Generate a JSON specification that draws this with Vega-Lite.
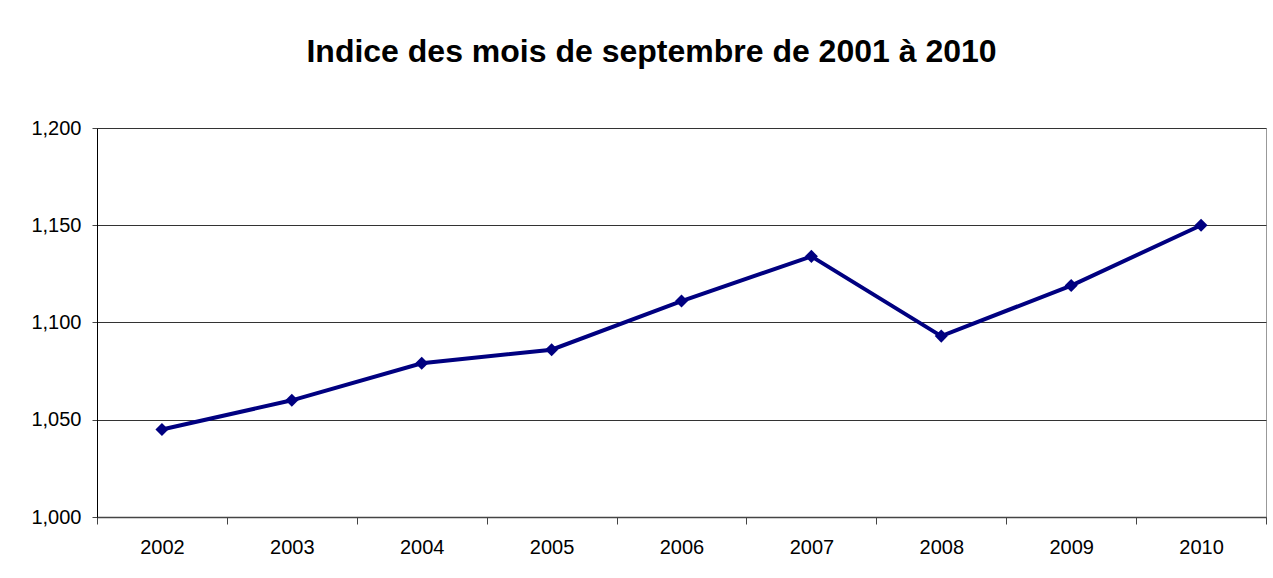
{
  "$schema": "https://vega.github.io/schema/vega-lite/v6.json",
  "autosize": "none",
  "width": 1169,
  "height": 389,
  "padding": {"left": 97, "top": 128, "right": 7, "bottom": 61},
  "background": "white",
  "title": {
    "text": "Indice des mois de septembre de 2001 à 2010",
    "font": "Liberation Sans",
    "fontSize": 32,
    "fontWeight": "bold",
    "color": "black",
    "anchor": "middle",
    "frame": "group",
    "dx": -30,
    "offset": 49
  },
  "data": {
    "values": [
      {"annee": "2002", "indice": 1.045},
      {"annee": "2003", "indice": 1.060},
      {"annee": "2004", "indice": 1.079},
      {"annee": "2005", "indice": 1.086},
      {"annee": "2006", "indice": 1.111},
      {"annee": "2007", "indice": 1.134},
      {"annee": "2008", "indice": 1.093},
      {"annee": "2009", "indice": 1.119},
      {"annee": "2010", "indice": 1.150}
    ]
  },
  "mark": {"type": "line", "color": "#000080", "strokeWidth": 4, "point": {"shape": "diamond", "size": 170, "color": "#000080", "filled": true}},
  "encoding": {
    "x": {
      "field": "annee",
      "type": "ordinal",
      "title": null,
      "scale": {"type": "band", "paddingInner": 0, "paddingOuter": 0},
      "axis": {
        "labelAngle": 0,
        "labelFont": "Liberation Sans",
        "labelFontSize": 20,
        "labelColor": "black",
        "labelPadding": 13,
        "tickBand": "extent",
        "tickSize": 7,
        "tickColor": "#444",
        "domainColor": "#444",
        "domainWidth": 1.5,
        "grid": false
      }
    },
    "y": {
      "field": "indice",
      "type": "quantitative",
      "title": null,
      "scale": {"domain": [1.0, 1.2], "nice": false, "zero": false},
      "axis": {
        "values": [1.0, 1.05, 1.1, 1.15, 1.2],
        "labelExpr": "replace(format(datum.value, '.3f'), '.', ',')",
        "labelFont": "Liberation Sans",
        "labelFontSize": 20,
        "labelColor": "black",
        "labelPadding": 11,
        "tickSize": 5,
        "tickColor": "#444",
        "domainColor": "black",
        "grid": true,
        "gridColor": "#333",
        "gridWidth": 1
      }
    }
  },
  "config": {
    "view": {"stroke": "#999", "strokeWidth": 1}
  }
}
